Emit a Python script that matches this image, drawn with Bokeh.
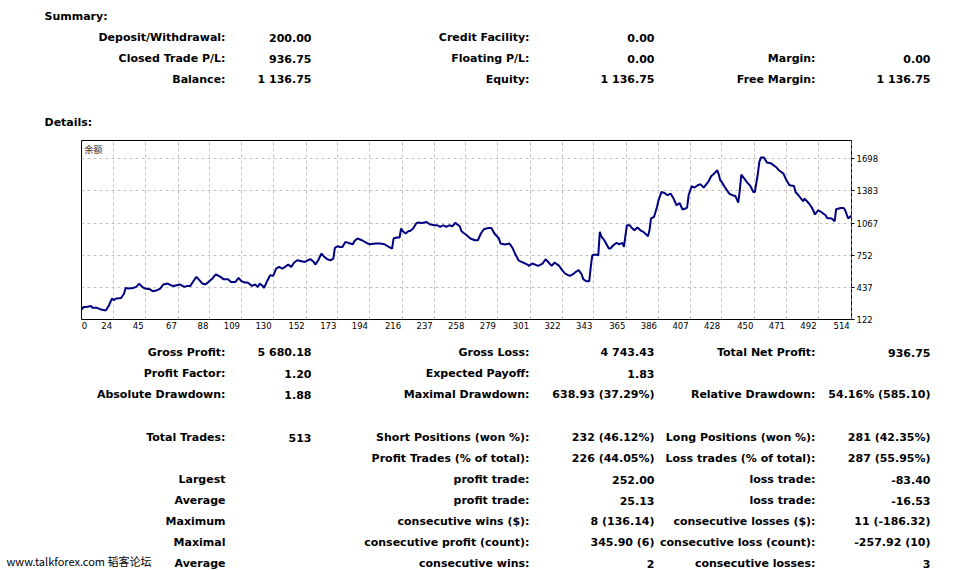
from bokeh.plotting import figure
from bokeh.models import Range1d, FixedTicker, ColumnDataSource, Label
from bokeh.core.properties import value
from bokeh.embed import file_html
from bokeh.resources import INLINE

# ---------------- data ----------------
trade_no = [3, 4, 6, 9, 10, 13, 15, 18, 19, 21, 23, 24, 26, 29, 31, 32, 34, 37, 39, 41, 43, 45, 48, 50, 53, 55, 57, 60,
            62, 64, 66, 68, 71, 73, 75, 77, 79, 81, 83, 85, 87, 90, 91,
            92, 95, 97, 100, 102, 105, 107, 109, 111, 113, 116, 118, 120, 121, 123, 124, 126, 128, 130, 132, 134, 136,
            138, 140, 142, 144, 146, 149, 151, 153, 155, 157, 158, 160, 162, 164, 166, 168, 170, 171, 173,
            174, 176, 178, 180, 183, 184, 186, 189, 192, 194, 198, 201, 204, 206, 209, 210, 212, 214, 215, 216, 218,
            220, 221, 223, 225, 226, 229, 232, 234, 237, 239, 241, 243, 245, 247, 249, 251, 254, 255, 257,
            258, 261, 264, 266, 268, 270, 273, 275, 277, 280, 281, 284, 287, 289, 291, 293, 296, 299, 300, 302, 304,
            306, 309, 311, 313, 315, 317, 320, 322, 324, 327, 329, 331, 333, 335, 336, 338, 340, 341, 342, 344, 346, 347,
            348, 350, 353, 354, 356, 358, 360, 362, 363, 365, 367, 368, 370, 372, 374, 376, 379, 380, 381, 383, 385,
            386, 388, 390, 392, 394, 396, 398, 400, 402, 404, 405, 406, 408, 410, 412, 414, 416, 419, 421, 423, 425,
            426, 427,
            428, 430, 433, 435, 437, 439, 440, 441, 443, 445, 447, 449, 450, 452, 453, 454, 456, 458, 461, 464, 466,
            469, 471, 473, 476, 477, 479, 482, 483, 486, 488, 490, 492, 494, 497, 498, 501, 503, 504, 507, 509, 510,
            512, 514]
balance = [220, 245, 245, 255, 236, 236, 223, 213, 213, 262, 328, 311, 328, 333, 377, 431, 425, 431, 441, 474, 441, 425,
           419, 399, 409, 425, 465, 474, 458, 451, 458, 465, 441, 451, 451, 497, 539, 507, 474, 465, 490, 529, 549,
           563, 539, 517, 517, 490, 490, 529, 497, 484, 484, 451, 465, 441, 474, 451, 431, 497, 556, 549, 621, 637,
           621, 637, 660, 637, 680, 702, 693, 686, 702, 712, 686, 660, 702, 768, 735, 712, 702, 719, 823, 842,
           833, 833, 882, 872, 859, 891, 915, 898, 872, 859, 866, 866, 859, 840, 817, 915, 925, 925, 1013, 989, 964,
           989, 989, 1013, 1062, 1072, 1068, 1077, 1055, 1045, 1045, 1028, 1045, 1028, 1045, 1035, 1068, 1035, 989, 964,
           954, 915, 898, 898, 964, 1006, 1019, 1019, 964, 915, 866, 856, 866, 823, 758, 702, 680, 660, 647, 670, 660,
           647, 670, 712, 680, 647, 680, 647, 605, 572, 549, 563, 588, 605, 563, 517, 497, 497, 637, 751, 758, 751, 980,
           937, 898, 817, 817, 849, 872, 859, 872, 833, 1045, 1045, 1023, 996, 1023, 996, 980, 937, 996, 1111, 1126,
           1224, 1290, 1371, 1361, 1339, 1355, 1306, 1241, 1263, 1199, 1209, 1218, 1339, 1427, 1414, 1437, 1446, 1414,
           1469, 1525, 1551, 1584, 1544, 1486,
           1469, 1420, 1355, 1339, 1332, 1267, 1388, 1541, 1502, 1463, 1430, 1371, 1371, 1551, 1665, 1708, 1708, 1659,
           1649, 1616, 1584, 1551, 1486, 1437, 1430, 1371, 1339, 1280, 1306, 1258, 1214, 1150, 1192, 1175, 1143, 1117,
           1111, 1084, 1202, 1214, 1214, 1192, 1111, 1137]

x_tick_values = [0, 24, 45, 67, 88, 109, 130, 152, 173, 194, 216, 237, 258, 279, 301, 322, 343, 365, 386, 407, 428,
                 450, 471, 492, 514]
y_tick_values = [122, 437, 752, 1067, 1383, 1698]
chart_label = "余额"

summary_title = "Summary:"
details_title = "Details:"
sum_labels_1 = ["Deposit/Withdrawal:", "Closed Trade P/L:", "Balance:"]
sum_values_1 = ["200.00", "936.75", "1 136.75"]
sum_labels_2 = ["Credit Facility:", "Floating P/L:", "Equity:"]
sum_values_2 = ["0.00", "0.00", "1 136.75"]
sum_labels_3 = ["", "Margin:", "Free Margin:"]
sum_values_3 = ["", "0.00", "1 136.75"]

det_labels_1 = ["Gross Profit:", "Profit Factor:", "Absolute Drawdown:", "Total Trades:", "", "Largest", "Average",
                "Maximum", "Maximal", "Average"]
det_values_1 = ["5 680.18", "1.20", "1.88", "513", "", "", "", "", "", ""]
det_labels_2 = ["Gross Loss:", "Expected Payoff:", "Maximal Drawdown:", "Short Positions (won %):",
                "Profit Trades (% of total):", "profit trade:", "profit trade:", "consecutive wins ($):",
                "consecutive profit (count):", "consecutive wins:"]
det_values_2 = ["4 743.43", "1.83", "638.93 (37.29%)", "232 (46.12%)", "226 (44.05%)", "252.00", "25.13",
                "8 (136.14)", "345.90 (6)", "2"]
det_labels_3 = ["Total Net Profit:", "", "Relative Drawdown:", "Long Positions (won %):", "Loss trades (% of total):",
                "loss trade:", "loss trade:", "consecutive losses ($):", "consecutive loss (count):",
                "consecutive losses:"]
det_values_3 = ["936.75", "", "54.16% (585.10)", "281 (42.35%)", "287 (55.95%)", "-83.40", "-16.53", "11 (-186.32)",
                "-257.92 (10)", "3"]
watermark = "www.talkforex.com 韬客论坛"

# ---------------- layout constants ----------------
W = 962
FONT = value("DejaVu Sans")
COLS = [225, 311, 529, 654, 815, 930]   # right edges of label / value columns (px)


def text_fig(height):
    p = figure(width=W, height=height, x_range=Range1d(0, W), y_range=Range1d(height, 0),
               output_backend="svg", toolbar_location=None, min_border=0,
               x_axis_type=None, y_axis_type=None, outline_line_color=None,
               background_fill_color="white", border_fill_color="white")
    return p


def add_texts(p, xs, ys, texts, align="right", style="bold", font=FONT, size="11px", color="black"):
    src = ColumnDataSource(dict(x=xs, y=ys, t=texts))
    p.text(x="x", y="y", text="t", source=src, text_align=align, text_baseline="middle",
           text_font=font, text_font_style=style, text_font_size=size, text_color=color)


# ---- top block (page y 0..136) ----
top_h = 136
top = text_fig(top_h)
add_texts(top, [44, 44], [16, 122], [summary_title, details_title], align="left")
sum_rows = [37, 58, 79]
for ci, col in enumerate([sum_labels_1, sum_values_1, sum_labels_2, sum_values_2, sum_labels_3, sum_values_3]):
    add_texts(top, [COLS[ci]] * len(col), sum_rows, col)

# ---- chart (page y 136..344) ----
chart_h = 208
x_start, x_end = 2.7, 514.2
y_start, y_end = 122, 1875
frame_w = 770
chart = figure(width=W, height=chart_h, output_backend="svg", toolbar_location=None,
               x_range=Range1d(x_start, x_end), y_range=Range1d(y_start, y_end),
               y_axis_location="right", min_border_left=81, min_border_right=W - 81 - frame_w,
               min_border_top=4, min_border_bottom=25,
               background_fill_color="white", border_fill_color="white")
chart.outline_line_color = "black"
chart.outline_line_width = 1

chart.line(trade_no, balance, line_color="#000080", line_width=2)

# grid lines
chart.xgrid.ticker = FixedTicker(ticks=x_tick_values[1:])
chart.ygrid.ticker = FixedTicker(ticks=y_tick_values)
for g in (chart.xgrid, chart.ygrid):
    g.grid_line_color = "#c0c0c0"
    g.grid_line_dash = "3 3"
    g.grid_line_width = 1

# x labels: right-aligned just left of their grid line (MT4 style)
px_per_trade = frame_w / (x_end - x_start)
label_pos = []
for v in x_tick_values:
    s = str(v)
    if v == 0:
        pos = x_start + 3.0 / px_per_trade
    else:
        pos = v - (len(s) * 5.4 / 2 + 1.5) / px_per_trade
    label_pos.append(round(pos, 2))
chart.xaxis.ticker = FixedTicker(ticks=label_pos)
chart.xaxis.major_label_overrides = {p_: str(v) for p_, v in zip(label_pos, x_tick_values)}
chart.xaxis.major_tick_out = 0
chart.xaxis.major_tick_in = 0
chart.xaxis.minor_tick_out = 0
chart.xaxis.minor_tick_in = 0
chart.xaxis.axis_line_color = None
chart.xaxis.major_label_standoff = 2

chart.yaxis.ticker = FixedTicker(ticks=y_tick_values)
chart.yaxis.major_tick_out = 3
chart.yaxis.major_tick_in = 0
chart.yaxis.minor_tick_out = 0
chart.yaxis.minor_tick_in = 0
chart.yaxis.axis_line_color = None
chart.yaxis.major_tick_line_color = "black"
chart.yaxis.major_label_standoff = 2

for ax in (chart.xaxis, chart.yaxis):
    ax.major_label_text_font = "DejaVu Sans"
    ax.major_label_text_font_size = "8.5px"
    ax.major_label_text_color = "black"

chart.add_layout(Label(x=x_start, y=y_end, x_units="data", y_units="data", text=chart_label,
                       x_offset=3, y_offset=-2.5, text_baseline="top", text_align="left",
                       text_font="Noto Sans CJK SC", text_font_size="9px", text_color="#333333"))

# ---- bottom block (page y 344..570) ----
bot_h = 226
bot = text_fig(bot_h)
det_rows = [8, 29, 50, 93, 114, 135, 156, 177, 198, 219]
for ci, col in enumerate([det_labels_1, det_values_1, det_labels_2, det_values_2, det_labels_3, det_values_3]):
    add_texts(bot, [COLS[ci]] * len(col), det_rows, col)
add_texts(bot, [6], [216], [watermark], align="left", style="normal", font=value("Noto Sans CJK SC"), size="11px")

# separate roots, stacked in the page (no frame alignment between them)
open("out.html", "w").write(file_html([top, chart, bot], INLINE))
